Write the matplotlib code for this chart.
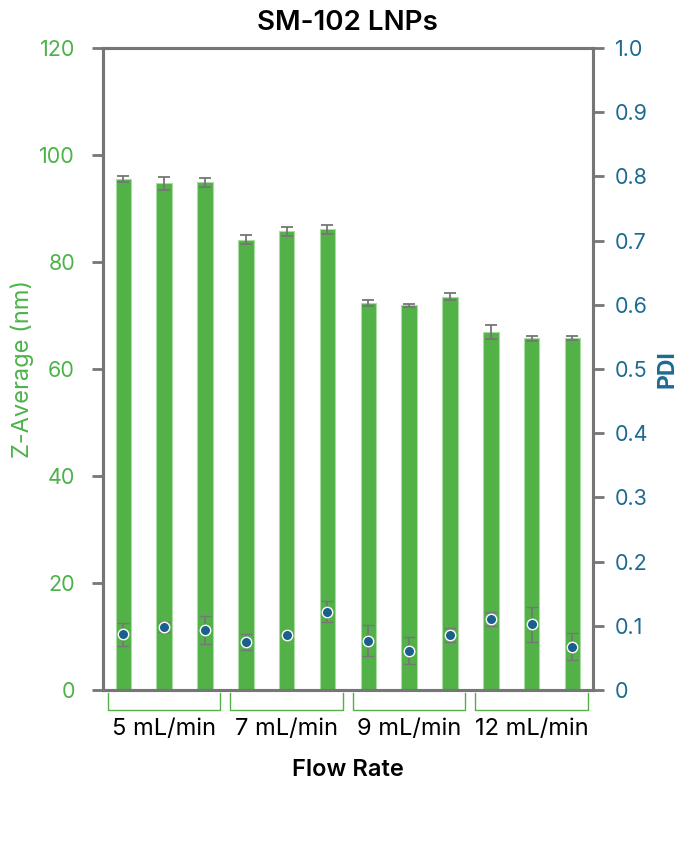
import matplotlib
matplotlib.use("Agg")
import matplotlib.pyplot as plt
import matplotlib.transforms as mtransforms
import numpy as np

plt.rcParams['font.family'] = ['Inter', 'DejaVu Sans']

groups = ["5 mL/min", "7 mL/min", "9 mL/min", "12 mL/min"]
z_avg = [95.5, 94.7, 94.9, 84.2, 85.7, 86.1, 72.3, 71.9, 73.5, 66.9, 65.7, 65.8]
z_err = [0.6, 1.2, 0.8, 0.75, 0.9, 0.9, 0.5, 0.3, 0.7, 1.3, 0.5, 0.4]
pdi = [0.087, 0.098, 0.094, 0.075, 0.086, 0.122, 0.077, 0.061, 0.085, 0.110, 0.102, 0.067]
pdi_err = [0.018, 0.008, 0.022, 0.012, 0.003, 0.016, 0.024, 0.021, 0.011, 0.011, 0.028, 0.021]
left_ticks = [0, 20, 40, 60, 80, 100, 120]
right_ticks = [0, 0.1, 0.2, 0.3, 0.4, 0.5, 0.6, 0.7, 0.8, 0.9, 1.0]
right_labels = ["0", "0.1", "0.2", "0.3", "0.4", "0.5", "0.6", "0.7", "0.8", "0.9", "1.0"]

GREEN = "#52b147"
GREEN_TXT = "#4cb34a"
BLUE = "#1b5f8c"
BLUE_TXT = "#1f6a92"
GRAY = "#767676"

fig = plt.figure(figsize=(6.95, 8.49), dpi=100)
ax = fig.add_axes([0.148, 0.1873, 0.705, 0.7562])
ax2 = ax.twinx()

x = np.arange(len(z_avg))
ax.bar(x, z_avg, width=0.38, color=GREEN, edgecolor="#a8dca0", linewidth=0.8, zorder=2)
ax.errorbar(x, z_avg, yerr=z_err, fmt="none", ecolor=GRAY, elinewidth=1.3,
            capsize=4.5, capthick=1.3, zorder=3)
ax.set_xlim(-0.5, len(z_avg) - 0.5)
ax.set_ylim(0, 120)
ax.set_yticks(left_ticks)
ax.set_yticklabels([str(t) for t in left_ticks])
ax.set_xticks(x)
ax.set_xticklabels([])
ax.tick_params(axis='x', direction='in', length=3, color=GRAY, width=0.8)
ax.tick_params(axis='y', direction='out', length=8, width=2, color=GRAY,
               labelcolor=GREEN_TXT, labelsize=15.5, pad=12)
ax.set_ylabel("Z-Average (nm)", color=GREEN_TXT, fontsize=17, labelpad=4)

ax2.errorbar(x, pdi, yerr=pdi_err, fmt="o", color=BLUE, markersize=7.5,
             markeredgecolor="white", markeredgewidth=1.0, ecolor=GRAY,
             elinewidth=1.2, capsize=4, capthick=1.2, zorder=4)
ax2.set_ylim(0, 1.0)
ax2.set_yticks(right_ticks)
ax2.set_yticklabels(right_labels)
ax2.tick_params(axis='y', direction='out', length=8, width=2, color=GRAY,
                labelcolor=BLUE_TXT, labelsize=15.5, pad=8)
ax2.set_ylabel("PDI", color=BLUE_TXT, fontsize=16.5, fontweight='bold', labelpad=6)

for a in (ax, ax2):
    for s in a.spines.values():
        s.set_color(GRAY)
        s.set_linewidth(2.2)

ax.set_title("SM-102 LNPs", fontsize=20, fontweight='semibold', pad=13)

# group brackets below axis
trans = mtransforms.blended_transform_factory(ax.transData, ax.transAxes)
for g, name in enumerate(groups):
    x0 = g * 3 - 0.38
    x1 = g * 3 + 2.38
    yb0 = -0.005
    yb1 = -0.031
    ax.plot([x0, x0, x1, x1], [yb0, yb1, yb1, yb0], color=GREEN, lw=1.0,
            transform=trans, clip_on=False)
    ax.text((x0 + x1) / 2, -0.043, name, transform=trans, ha='center', va='top',
            fontsize=17, color="black")

ax.text(0.5, -0.107, "Flow Rate", transform=ax.transAxes, ha='center', va='top',
        fontsize=17, fontweight='semibold', color="black")

fig.savefig("out.png", dpi=100)
